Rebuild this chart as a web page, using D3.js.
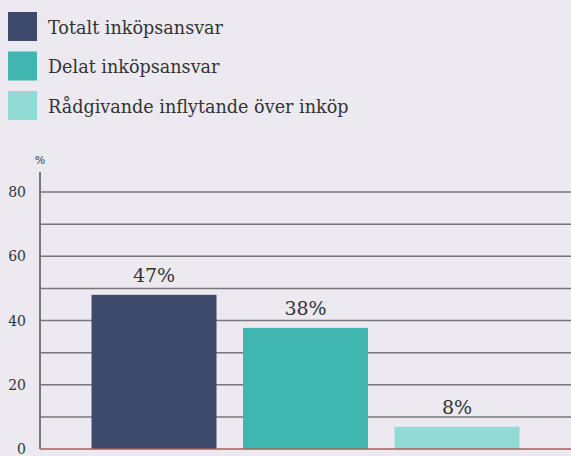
<!DOCTYPE html>
<html>
<head>
<meta charset="utf-8">
<script src="https://cdn.jsdelivr.net/npm/d3@7"></script>
<style>
  body { margin: 0; background: #ece9f0; }
</style>
</head>
<body>
<div id="chart"></div>
<script>
// data
const categories = ["Totalt inköpsansvar", "Delat inköpsansvar", "Rådgivande inflytande över inköp"];
const values = [48, 37.7, 6.9];
const valueLabels = ["47%", "38%", "8%"];
const colors = ["#3d4a6b", "#40b6b0", "#91dad6"];
const yTicks = [0, 20, 40, 60, 80];
const gridTicks = [10, 20, 30, 40, 50, 60, 70, 80];

const width = 571,
    height = 456,
    margin = ({ top: 172, right: 0, bottom: 7, left: 40 });

const font = "'DejaVu Serif', 'Liberation Serif', serif";

const svg = d3.select("#chart")
    .append("svg")
    .attr("width", width)
    .attr("height", height)
    .style("display", "block");

svg.append("rect")
    .attr("width", width)
    .attr("height", height)
    .attr("fill", "#ece9f0");

// legend
const legend = svg.append("g")
    .selectAll("g")
    .data(categories)
    .join("g")
    .attr("transform", (d, i) => `translate(8,${12 + i * 39.5})`);

legend.append("rect")
    .attr("width", 29)
    .attr("height", 29)
    .attr("fill", (d, i) => colors[i]);

legend.append("text")
    .attr("x", 40)
    .attr("y", 16.5)
    .attr("dominant-baseline", "middle")
    .attr("font-family", font)
    .attr("font-size", 17.6)
    .attr("fill", "#333")
    .text(d => d);

// scales
let x = d3.scaleBand()
    .domain(categories)
    .range([margin.left, width - margin.right])
    .paddingInner(0.175)
    .paddingOuter(0.34);

let y = d3.scaleLinear()
    .domain([0, 80])
    .range([height - margin.bottom, 192]);

// gridlines
svg.append("g")
    .selectAll("line")
    .data(gridTicks)
    .join("line")
    .attr("x1", margin.left)
    .attr("x2", width)
    .attr("y1", d => y(d))
    .attr("y2", d => y(d))
    .attr("stroke", "#777")
    .attr("stroke-width", 1.5);

// y axis labels
svg.append("g")
    .selectAll("text")
    .data(yTicks)
    .join("text")
    .attr("x", 26)
    .attr("y", d => y(d) + 1)
    .attr("text-anchor", "end")
    .attr("dominant-baseline", "middle")
    .attr("font-family", font)
    .attr("font-size", 14)
    .attr("fill", "#333")
    .text(d => d);

svg.append("text")
    .attr("x", 40)
    .attr("y", 164)
    .attr("text-anchor", "middle")
    .attr("font-family", font)
    .attr("font-size", 11)
    .attr("fill", "#333")
    .text("%");

// bars
svg.append("g")
    .selectAll("rect")
    .data(categories)
    .join("rect")
    .attr("x", d => x(d))
    .attr("width", x.bandwidth())
    .attr("y", (d, i) => y(values[i]))
    .attr("height", (d, i) => y(0) - y(values[i]))
    .attr("fill", (d, i) => colors[i]);

// value labels
svg.append("g")
    .selectAll("text")
    .data(categories)
    .join("text")
    .attr("x", d => x(d) + x.bandwidth() / 2)
    .attr("y", (d, i) => y(values[i]) - 13)
    .attr("text-anchor", "middle")
    .attr("font-family", font)
    .attr("font-size", 19)
    .attr("fill", "#333")
    .text((d, i) => valueLabels[i]);

// axis line and baseline
svg.append("line")
    .attr("x1", margin.left)
    .attr("x2", margin.left)
    .attr("y1", margin.top)
    .attr("y2", y(0))
    .attr("stroke", "#777")
    .attr("stroke-width", 2);

svg.append("line")
    .attr("x1", margin.left)
    .attr("x2", width)
    .attr("y1", y(0))
    .attr("y2", y(0))
    .attr("stroke", "#a0605c")
    .attr("stroke-width", 1.5);
</script>
</body>
</html>
